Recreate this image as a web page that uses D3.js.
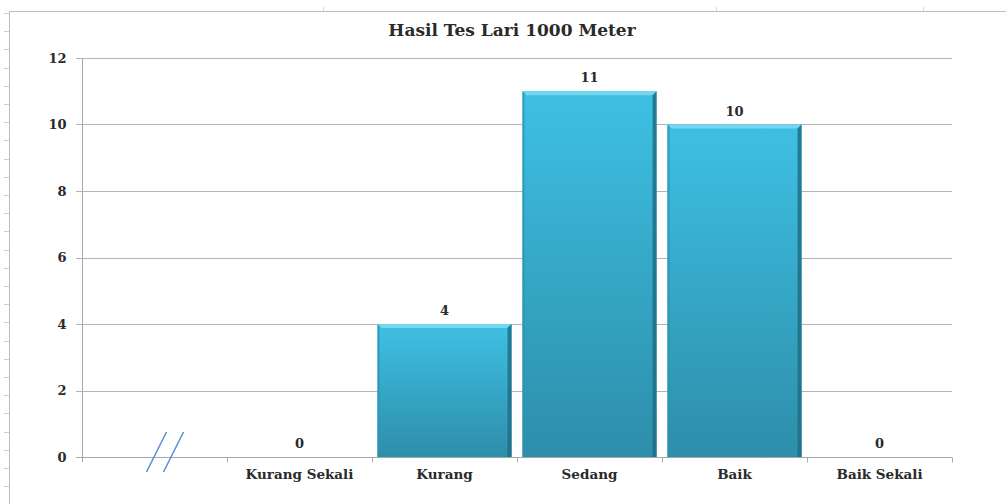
<!DOCTYPE html>
<html>
<head>
<meta charset="utf-8">
<script src="https://cdn.jsdelivr.net/npm/d3@7"></script>
<style>
  body { margin: 0; background: #fff; }
  svg { display: block; }
  text { font-family: "DejaVu Serif", serif; fill: #2a2a2a; }
</style>
</head>
<body>
<svg id="chart"></svg>
<script>
// data
const categories = ['', 'Kurang Sekali', 'Kurang', 'Sedang', 'Baik', 'Baik Sekali'];
const values = [null, 0, 4, 11, 10, 0];
const yTicks = [0, 2, 4, 6, 8, 10, 12];
const title = 'Hasil Tes Lari 1000 Meter';

const width = 1006;
const height = 504;
const margin = { top: 58, right: 54, bottom: 47, left: 82 };

const svg = d3.select('#chart')
    .attr('width', width)
    .attr('height', height);

const defs = svg.append('defs');
const grad = defs.append('linearGradient')
    .attr('id', 'barGrad')
    .attr('x1', 0).attr('y1', 0).attr('x2', 0).attr('y2', 1);
grad.append('stop').attr('offset', '0%').attr('stop-color', '#3ec0e3');
grad.append('stop').attr('offset', '100%').attr('stop-color', '#2d8eaa');

// outer frame (sheet edge with ruler ticks)
const frame = svg.append('g').attr('stroke', '#bdbdbd').attr('fill', 'none');
frame.append('line').attr('x1', 9.5).attr('x2', 9.5).attr('y1', 11).attr('y2', height);
frame.append('line').attr('x1', 9).attr('x2', width).attr('y1', 11.5).attr('y2', 11.5);
frame.selectAll('.rt').data(d3.range(13, height, 18.2)).join('line')
    .attr('x1', 4).attr('x2', 9)
    .attr('y1', d => Math.round(d) + 0.5).attr('y2', d => Math.round(d) + 0.5)
    .attr('stroke', '#cfcfcf');
frame.selectAll('.tt').data([323, 716, 923]).join('line')
    .attr('x1', d => d + 0.5).attr('x2', d => d + 0.5)
    .attr('y1', 7).attr('y2', 11)
    .attr('stroke', '#d8d8d8');

const x = d3.scaleBand()
    .domain(categories)
    .range([margin.left, width - margin.right])
    .paddingInner(0.075)
    .paddingOuter(0.0375);

const xb = d3.scaleBand()
    .domain(categories)
    .range([margin.left, width - margin.right]);

const y = d3.scaleLinear()
    .domain([0, 12])
    .range([height - margin.bottom, margin.top]);

// gridlines
svg.append('g')
    .selectAll('line')
    .data(yTicks)
    .join('line')
    .attr('x1', margin.left - 6)
    .attr('x2', width - margin.right)
    .attr('y1', d => Math.round(y(d)) + 0.5)
    .attr('y2', d => Math.round(y(d)) + 0.5)
    .attr('stroke', '#b4b4b4');

// y axis
const yAxis = svg.append('g')
    .attr('transform', `translate(${margin.left + 0.5},0)`)
    .call(d3.axisLeft(y).tickValues(yTicks).tickSize(0).tickPadding(16));
yAxis.select('.domain').attr('stroke', '#a8a8a8').attr('d', `M0,${margin.top}V${height - margin.bottom + 5}`);
yAxis.selectAll('text')
    .style('font-size', '13px')
    .style('font-weight', 'bold')
    .style('font-family', '"DejaVu Serif", serif')
    .attr('fill', '#333');

// x axis
const xAxis = svg.append('g')
    .attr('transform', `translate(0,${Math.round(y(0)) + 0.5})`);
xAxis.append('line')
    .attr('x1', margin.left - 6).attr('x2', width - margin.right)
    .attr('stroke', '#a8a8a8');
xAxis.selectAll('.tk')
    .data(categories.slice(1).map(c => xb(c)).concat([width - margin.right]))
    .join('line')
    .attr('x1', d => Math.round(d) + 0.5).attr('x2', d => Math.round(d) + 0.5)
    .attr('y1', 0).attr('y2', 5)
    .attr('stroke', '#a8a8a8');
xAxis.selectAll('.lbl')
    .data(categories)
    .join('text')
    .attr('x', d => xb(d) + xb.bandwidth() / 2)
    .attr('y', 21)
    .attr('text-anchor', 'middle')
    .style('font-size', '13.5px')
    .style('font-weight', 'bold')
    .attr('fill', '#333')
    .text(d => d);

// axis break marks on the empty first category
const bx = xb(categories[0]) + xb.bandwidth() / 2;
const brk = svg.append('g').attr('stroke', '#5b8fd8').attr('stroke-width', 1.6);
[2, 19].forEach(off => {
    brk.append('line')
        .attr('x1', bx + off - 10).attr('y1', y(0) + 15)
        .attr('x2', bx + off + 10).attr('y2', y(0) - 25);
});

// bars
const data = categories.map((c, i) => ({ cat: c, value: values[i] }))
    .filter(d => d.value !== null);

const bars = svg.append('g').selectAll('g')
    .data(data.filter(d => d.value > 0))
    .join('g');

bars.append('rect')
    .attr('x', d => x(d.cat))
    .attr('y', d => y(d.value))
    .attr('width', x.bandwidth())
    .attr('height', d => y(0) - y(d.value))
    .attr('fill', 'url(#barGrad)');
// bevel: top light strip, right dark edge, left light edge
bars.append('path')
    .attr('d', d => {
        const x0 = x(d.cat), x1 = x0 + x.bandwidth(), t = y(d.value);
        return `M${x0},${t}H${x1}L${x1 - 4},${t + 4}H${x0 + 4}Z`;
    })
    .attr('fill', '#74d6ef');
bars.append('path')
    .attr('d', d => {
        const x0 = x(d.cat), x1 = x0 + x.bandwidth(), t = y(d.value), b = y(0);
        return `M${x1},${t}L${x1 - 4},${t + 4}V${b}H${x1}Z`;
    })
    .attr('fill', '#1f6f86')
    .attr('opacity', 0.85);
bars.append('path')
    .attr('d', d => {
        const x0 = x(d.cat), t = y(d.value), b = y(0);
        return `M${x0},${t}L${x0 + 2},${t + 2}V${b}H${x0}Z`;
    })
    .attr('fill', '#2a93b0')
    .attr('opacity', 0.8);

// value labels
svg.append('g').selectAll('text')
    .data(data)
    .join('text')
    .attr('x', d => x(d.cat) + x.bandwidth() / 2)
    .attr('y', d => y(d.value) - 9)
    .attr('text-anchor', 'middle')
    .style('font-size', '13px')
    .style('font-weight', 'bold')
    .attr('fill', '#333')
    .text(d => d.value);

// title
svg.append('text')
    .attr('x', 512)
    .attr('y', 36)
    .attr('text-anchor', 'middle')
    .style('font-size', '17px')
    .style('font-weight', 'bold')
    .attr('fill', '#111')
    .text(title);
</script>
</body>
</html>
